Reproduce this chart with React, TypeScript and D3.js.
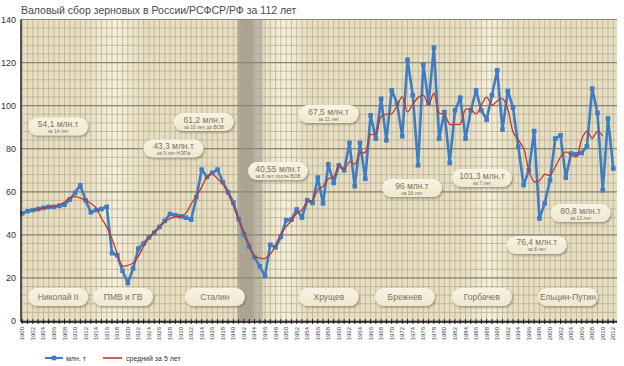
import React from 'react';
import * as d3 from 'd3';

// Валовый сбор зерновых, млн. т
const years = d3.range(1900, 2013);
const harvest = [
  50, 51, 51.5, 52, 52.5, 53, 53, 53.5, 54, 56.4,
  59.5, 63, 56, 50.5, 51.5, 52, 53, 31.5, 30.5, 23.3,
  17.6, 24.4, 33.6, 36, 38.8, 41, 43.7, 46.5, 49.7, 49.1,
  48.6, 48, 47.1, 57.6, 70.3, 66.9, 68.8, 70.3, 64.5, 59.8,
  55, 47.3, 40.3, 34.6, 29.6, 25.4, 21, 35.4, 34.2, 39.1,
  46.8, 47.1, 51.8, 48, 56.1, 54.8, 66.6, 54.6, 72.8, 64.1,
  72.3, 70, 82.7, 62.6, 82.7, 66.1, 95.5, 84.7, 103.2, 83.9,
  107.1, 101.2, 85.8, 121.3, 104.8, 72.3, 119, 101.2, 126.9, 84.7,
  97, 73.4, 97.8, 103.7, 84.7, 97.8, 107.1, 97.8, 93.5, 104.8,
  116.4, 88.9, 106.8, 99.1, 81, 63.1, 70, 88.2, 47.6, 54.6,
  65.4, 84.7, 86.2, 66.6, 77.8, 77.4, 78, 81.1, 107.9, 96.6,
  60.7, 94, 70.8,
];
const yTicks = [0, 20, 40, 60, 80, 100, 120, 140];
const tickYears = d3.range(1900, 2013, 2);

const avgNotes = [
  { year: 1906.8, value: 90.3, label: '54,1 млн.т', sub: 'за 14 лет' },
  { year: 1928.65, value: 80.1, label: '43,3 млн.т', sub: 'за 9 лет НЭПа' },
  { year: 1934.4, value: 92.4, label: '61,2 млн.т', sub: 'за 10 лет до ВОВ' },
  { year: 1948.45, value: 69.6, label: '40,55 млн.т', sub: 'за 8 лет после ВОВ' },
  { year: 1958.05, value: 96.1, label: '67,5 млн.т', sub: 'за 11 лет' },
  { year: 1973.85, value: 61.7, label: '96 млн.т', sub: 'за 18 лет' },
  { year: 1987.1, value: 66.4, label: '101,3 млн.т', sub: 'за 7 лет' },
  { year: 1997.5, value: 35.3, label: '76,4 млн.т', sub: 'за 8 лет' },
  { year: 2005.8, value: 50.1, label: '80,8 млн.т', sub: 'за 13 лет' },
];
const periods = [
  { year: 1906.8, label: 'Николай II' },
  { year: 1919.1, label: 'ПМВ и ГВ' },
  { year: 1936.5, label: 'Сталин' },
  { year: 1958.1, label: 'Хрущев' },
  { year: 1972.5, label: 'Брежнев' },
  { year: 1987.1, label: 'Горбачев' },
  { year: 2003.4, label: 'Ельцин-Путин' },
];
const lightBands = [
  [1912, 1923],
  [1945.5, 1954],
  [1984, 1993],
];
const warBand = [1940.7, 1945.6];

const W = 624;
const H = 366;
const BLUE = '#3e7cc3';
const RED = '#c0392b';
const FONT = "'Liberation Sans Narrow', 'Arial Narrow', 'Liberation Sans', sans-serif";

export default function App() {
  const x = d3.scaleLinear().domain([1900, 2012]).range([22.3, 613.3]);
  const y = d3.scaleLinear().domain([0, 140]).range([321, 19.5]);
  const left = 21;
  const right = 617;

  // скользящее среднее за 5 лет (центрированное)
  const avg = harvest
    .map((_, i) =>
      i >= 2 && i < harvest.length - 2
        ? { year: years[i], v: d3.mean(harvest.slice(i - 2, i + 3)) as number }
        : null
    )
    .filter(Boolean) as { year: number; v: number }[];

  const line = d3
    .line<number>()
    .x((_, i) => x(years[i]))
    .y((d) => y(d));
  const avgLine = d3
    .line<{ year: number; v: number }>()
    .x((d) => x(d.year))
    .y((d) => y(d.v))
    .curve(d3.curveCatmullRom.alpha(0.5));

  const minor = d3.range(0, 141, 4);
  const bw = 60;
  const bh = 18;

  return (
    <svg width={W} height={H} style={{ position: 'absolute', left: 0, top: 0 }} fontFamily={FONT}>
      <defs>
        <filter id="sh" x="-20%" y="-30%" width="140%" height="170%">
          <feDropShadow dx="1" dy="1.5" stdDeviation="0.9" floodColor="#5e5646" floodOpacity="0.55" />
        </filter>
        <linearGradient id="lb" x1="0" x2="1" y1="0" y2="0">
          <stop offset="0" stopColor="#f6f1dc" stopOpacity="0" />
          <stop offset="0.5" stopColor="#f8f3df" stopOpacity="0.9" />
          <stop offset="1" stopColor="#f6f1dc" stopOpacity="0" />
        </linearGradient>
        <linearGradient id="wb" x1="0" x2="1" y1="0" y2="0">
          <stop offset="0" stopColor="#b9b2a3" />
          <stop offset="0.15" stopColor="#aaa394" />
          <stop offset="0.55" stopColor="#a9a293" />
          <stop offset="0.7" stopColor="#bdb7a9" />
          <stop offset="1" stopColor="#c3bdaf" />
        </linearGradient>
        <linearGradient id="box" x1="0" x2="0" y1="0" y2="1">
          <stop offset="0" stopColor="#f8f3e2" />
          <stop offset="1" stopColor="#efe7cf" />
        </linearGradient>
      </defs>
      <rect width={W} height={H} fill="#ffffff" />
      <text x={21} y={14} fontSize={10.5} fill="#4a4a4a">
        Валовый сбор зерновых в России/РСФСР/РФ за 112 лет
      </text>

      {/* фон */}
      <rect x={left} y={y(140)} width={right - left} height={y(0) - y(140)} fill="#e8dfc3" />
      {lightBands.map(([a, b], i) => (
        <rect key={i} x={x(a)} y={y(140)} width={x(b) - x(a)} height={y(0) - y(140)} fill="url(#lb)" />
      ))}
      <rect
        x={x(warBand[0])}
        y={y(140)}
        width={x(warBand[1]) - x(warBand[0])}
        height={y(0) - y(140)}
        fill="url(#wb)"
      />
      {years.map((yr) => (
        <line key={yr} x1={x(yr)} x2={x(yr)} y1={y(140)} y2={y(0)} stroke="#b2a98f" strokeWidth={0.7} />
      ))}
      {minor.map((v) => (
        <line key={v} x1={left} x2={right} y1={y(v)} y2={y(v)} stroke="#b2a98f" strokeWidth={0.7} />
      ))}
      {yTicks.map((v) => (
        <line key={v} x1={left} x2={right} y1={y(v)} y2={y(v)} stroke="#8e8675" strokeWidth={1.2} />
      ))}

      {/* подписи периодов */}
      {periods.map((p) => {
        const cx = x(p.year);
        const cy = y(11.1);
        return (
          <g key={p.label}>
            <rect x={cx - bw / 2} y={cy - bh / 2} width={bw} height={bh} rx={9} fill="url(#box)" filter="url(#sh)" />
            <text x={cx} y={cy + 3} textAnchor="middle" fontSize={8.5} fill="#7a7262">
              {p.label}
            </text>
          </g>
        );
      })}

      {/* средние значения */}
      {avgNotes.map((n) => {
        const cx = x(n.year);
        const cy = y(n.value);
        return (
          <g key={n.label}>
            <rect x={cx - bw / 2} y={cy - bh / 2} width={bw} height={bh} rx={9} fill="url(#box)" filter="url(#sh)" />
            <text x={cx} y={cy + 0.5} textAnchor="middle" fontSize={8.5} fill="#7a7262">
              {n.label}
            </text>
            <text x={cx} y={cy + 6.5} textAnchor="middle" fontSize={5} fill="#7a7262">
              {n.sub}
            </text>
          </g>
        );
      })}

      {/* ряды */}
      <path d={line(harvest) ?? ''} fill="none" stroke={BLUE} strokeWidth={2.6} strokeLinejoin="round" />
      {harvest.map((v, i) => (
        <rect key={i} x={x(years[i]) - 2.3} y={y(v) - 2.3} width={4.6} height={4.6} fill={BLUE} />
      ))}
      <path d={avgLine(avg) ?? ''} fill="none" stroke={RED} strokeWidth={1.3} />

      {/* оси */}
      <line x1={left} x2={left} y1={y(140)} y2={y(0) + 1} stroke="#222" strokeWidth={1.5} />
      {yTicks.map((v) => (
        <text key={v} x={16} y={y(v) + 3} textAnchor="end" fontSize={9} fill="#333">
          {v}
        </text>
      ))}
      <line x1={left} x2={right} y1={y(0) + 1} y2={y(0) + 1} stroke="#111" strokeWidth={1.6} />
      {years.map((yr) => (
        <line key={yr} x1={x(yr)} x2={x(yr)} y1={y(0) - 2} y2={y(0) + 3} stroke="#111" strokeWidth={0.9} />
      ))}
      {tickYears.map((yr) => (
        <text
          key={yr}
          transform={`translate(${x(yr) + 2},${y(0) + 6}) rotate(-90)`}
          textAnchor="end"
          fontSize={6}
          fill="#444"
        >
          {yr}
        </text>
      ))}

      {/* легенда */}
      <line x1={45} x2={63} y1={358} y2={358} stroke={BLUE} strokeWidth={2} />
      <rect x={51.7} y={355.7} width={4.6} height={4.6} fill={BLUE} />
      <text x={66} y={360.5} fontSize={7} fill="#333">
        млн. т
      </text>
      <line x1={103} x2={122} y1={358} y2={358} stroke={RED} strokeWidth={1.6} />
      <text x={126} y={360.5} fontSize={7} fill="#333">
        средний за 5 лет
      </text>
    </svg>
  );
}
